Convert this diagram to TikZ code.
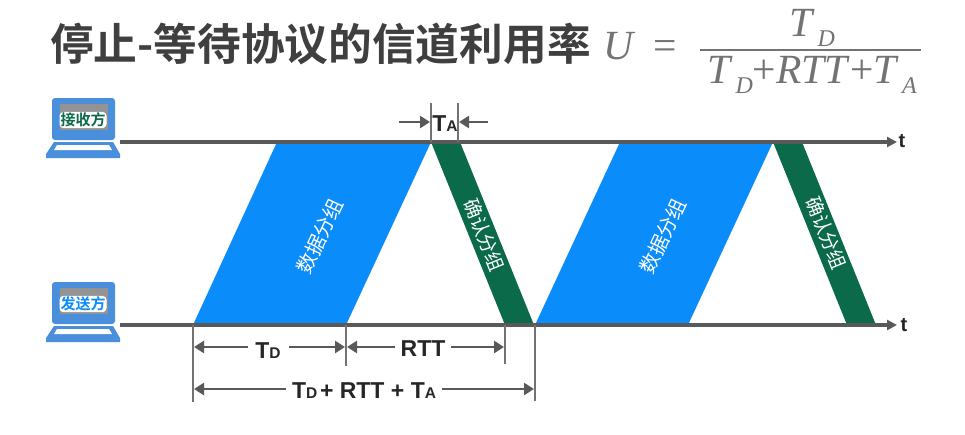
\documentclass[tikz,border=0pt]{standalone}
\usepackage{fontspec}
\setmainfont{Liberation Sans}
\newfontfamily\cjk{Noto Sans CJK SC}
\newfontfamily\cjkb{Noto Sans CJK SC Bold}
\newfontfamily\frm{Liberation Serif}
\usetikzlibrary{arrows.meta}
\definecolor{lineg}{HTML}{595959}
\definecolor{blueb}{HTML}{0A8CFA}
\definecolor{greenb}{HTML}{0B6A4A}
\definecolor{lapb}{HTML}{4A8FDC}
\definecolor{titleg}{HTML}{3F3F3F}
\definecolor{frmg}{HTML}{737373}
\newcommand{\fsz}[1]{\fontsize{#1}{#1}\selectfont}
\newcommand{\lbl}[2]{\textbf{\fsz{23}#1{\fsz{15.5}#2}}}
\newcommand{\fsub}[1]{\raisebox{-10pt}{\fsz{24}\textit{#1}}}
\tikzset{
  timeline/.style={draw=lineg,line width=3.2pt,-{Triangle[length=10pt,width=10pt]}},
  tickline/.style={draw=lineg!85,line width=1.8pt},
  dimarrow/.style={draw=lineg,line width=2.6pt,-{Triangle[length=10pt,width=12pt]}},
  databox/.style={fill=blueb},
  ackbox/.style={fill=greenb},
  datatext/.style={text=white,font=\cjk\fsz{20}},
  axislabel/.style={font=\bfseries\fsz{20},text=black!85},
  dimlabel/.style={text=black!85,inner sep=0pt},
  frmtext/.style={font=\frm\fsz{41.5},text=frmg,inner sep=0pt,anchor=base},
}
\newcommand{\laptop}[4]{%
  \fill[lapb,rounded corners=3pt] (52,#1+98) -- (52,#1+140) -- (115,#1+140) -- (115,#1+98) -- cycle;
  \fill[gray!85] (60,#1+104) rectangle (108,#1+130);
  \fill[lapb] (46,#1+158) -- (46,#1+154) -- (54,#1+142) -- (113,#1+142) -- (120,#1+154) -- (120,#1+158) -- cycle;
  \fill[white] (54,#1+150) -- (57,#1+145) -- (109,#1+145) -- (112,#1+150) -- cycle;
  \node[#2] (#3) at (83,#1+120) [fill=white,rounded corners=4pt,inner sep=1pt,font=\cjkb\fsz{15}] {#4};
}
\begin{document}
\begin{tikzpicture}[x=1pt,y=-1pt]
\useasboundingbox[fill=white] (0,0) rectangle (965,434);

% title and formula
\node[anchor=base west,inner sep=0pt,text=titleg,font=\cjkb\fsz{43.7}] (title) at (50,60) {停止-等待协议的信道利用率};
\node[frmtext] (u) at (620,59) {\textit{U}};
\node[frmtext] (eq) at (665,59) {=};
\node[frmtext] (num) at (812,36) {\textit{T}\kern3pt\fsub{D}};
\node[frmtext] (den) at (812,83) {\textit{T}\kern3pt\fsub{D}+\textit{RTT}+\textit{T}\kern3pt\fsub{A}};
\coordinate (fl) at (700,50);
\coordinate (fr) at (921,50);
\draw[frmg,line width=1.3pt] (fl) -- (fr);

% packets
\coordinate (d1a) at (193,325); \coordinate (d1b) at (346,325);
\coordinate (d1c) at (431,142); \coordinate (d1d) at (277,142);
\coordinate (d2a) at (535,325); \coordinate (d2b) at (688,325);
\coordinate (d2c) at (773,142); \coordinate (d2d) at (620,142);
\coordinate (a1a) at (431,142); \coordinate (a1b) at (460,142);
\coordinate (a1c) at (534,325); \coordinate (a1d) at (505,325);
\coordinate (a2a) at (773,142); \coordinate (a2b) at (802,142);
\coordinate (a2c) at (876,325); \coordinate (a2d) at (847,325);
\fill[databox] (d1a) -- (d1b) -- (d1c) -- (d1d) -- cycle;
\fill[databox] (d2a) -- (d2b) -- (d2c) -- (d2d) -- cycle;
\fill[ackbox] (a1a) -- (a1b) -- (a1c) -- (a1d) -- cycle;
\fill[ackbox] (a2a) -- (a2b) -- (a2c) -- (a2d) -- cycle;
\node[datatext,rotate=65] (dt1) at (320,236) {数据分组};
\node[datatext,rotate=65] (dt2) at (663,236) {数据分组};
\node[datatext,rotate=-68,font=\cjk\fsz{19}] (at1) at (484,235) {确认分组};
\node[datatext,rotate=-68,font=\cjk\fsz{19}] (at2) at (826,233) {确认分组};

% laptops
\laptop{0}{text=greenb}{recv}{接收方}
\laptop{184}{text=blueb}{send}{发送方}

% time lines
\coordinate (rs) at (120,142); \coordinate (re) at (897,142);
\coordinate (ss) at (120,325); \coordinate (se) at (897,325);
\draw[timeline] (rs) -- (re);
\draw[timeline] (ss) -- (se);
\node[axislabel] (t1) at (902,141) {t};
\node[axislabel] (t2) at (904,325) {t};

% ticks
\coordinate (k1) at (193,325); \coordinate (k1e) at (193,402);
\coordinate (k2) at (346,325); \coordinate (k2e) at (346,366);
\coordinate (k3) at (505,325); \coordinate (k3e) at (505,364);
\coordinate (k4) at (535,325); \coordinate (k4e) at (535,401);
\coordinate (k5) at (431,142); \coordinate (k5e) at (431,103);
\coordinate (k6) at (458,142); \coordinate (k6e) at (458,103);
\foreach \p/\q in {k1/k1e,k2/k2e,k3/k3e,k4/k4e,k5/k5e,k6/k6e}
  \draw[tickline] (\p) -- (\q);

% dimension labels
\node[dimlabel] (ltd) at (268,351) {\lbl{T}{D}};
\node[dimlabel] (lrtt) at (423,349) {\lbl{RTT}{}};
\node[dimlabel] (lall) at (364,391) {\lbl{T}{D} \lbl{+ RTT + T}{A}};
\node[dimlabel] (lta) at (445,124) {\lbl{T}{A}};

% dimension arrows
\coordinate (r1a) at (194,347); \coordinate (r1b) at (345,347);
\coordinate (r2a) at (347,347); \coordinate (r2b) at (504,347);
\coordinate (r3a) at (194,389); \coordinate (r3b) at (534,389);
\coordinate (taa) at (399,122); \coordinate (tab) at (430,122);
\coordinate (tac) at (488,122); \coordinate (tad) at (459,122);
\coordinate (g1) at (248,347); \coordinate (g2) at (289,347);
\coordinate (g3) at (395,347); \coordinate (g4) at (451,347);
\coordinate (g5) at (286,389); \coordinate (g6) at (442,389);
\draw[dimarrow] (g1) -- (r1a);
\draw[dimarrow] (g2) -- (r1b);
\draw[dimarrow] (g3) -- (r2a);
\draw[dimarrow] (g4) -- (r2b);
\draw[dimarrow] (g5) -- (r3a);
\draw[dimarrow] (g6) -- (r3b);
\draw[dimarrow] (taa) -- (tab);
\draw[dimarrow] (tac) -- (tad);
\end{tikzpicture}
\end{document}
